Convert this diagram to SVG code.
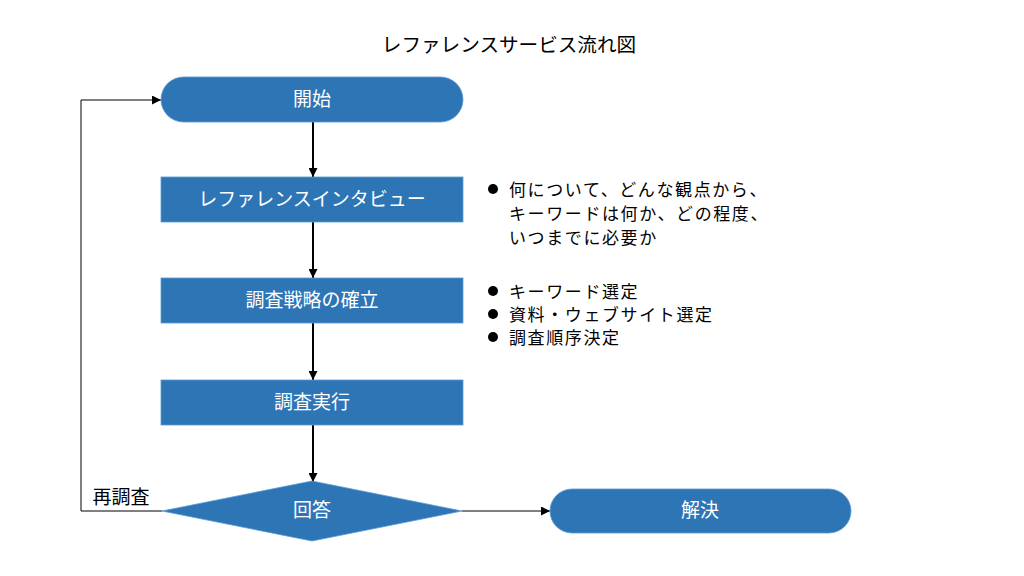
<svg xmlns="http://www.w3.org/2000/svg" width="1024" height="576" viewBox="0 0 1024 576">
<style>
text{font-family:"Noto Sans CJK JP","Noto Sans",sans-serif;font-size:19px}
.n{fill:#2E75B6;stroke:#5B9BD5;stroke-width:0.8}
.w{fill:#fff;text-anchor:middle;dominant-baseline:central}
.k{fill:#000}
.b{font-size:17px;letter-spacing:1.6px}
.thick{stroke:#000;stroke-width:2;fill:none}
.thin{stroke:#000;stroke-width:1;fill:none}
</style>
<defs>
<marker id="b" viewBox="0 0 10 10" refX="10" refY="5" markerWidth="9" markerHeight="9" orient="auto" markerUnits="userSpaceOnUse"><path d="M0,0L10,5L0,10z" fill="#000"/></marker>
</defs>
<rect width="1024" height="576" fill="#fff"/>
<text x="509" y="43" class="k" text-anchor="middle" dominant-baseline="central" style="font-size:19.6px">レファレンスサービス流れ図</text>
<g id="connectors">
<line x1="313" y1="122" x2="313" y2="177" class="thick" marker-end="url(#b)"/>
<line x1="313" y1="222" x2="313" y2="278" class="thick" marker-end="url(#b)"/>
<line x1="313" y1="323" x2="313" y2="380" class="thick" marker-end="url(#b)"/>
<line x1="313" y1="425" x2="313" y2="482" class="thick" marker-end="url(#b)"/>
<polyline points="162,511 81,511 81,100 161,100" class="thin" marker-end="url(#b)"/>
<line x1="462" y1="511" x2="550" y2="511" class="thin" marker-end="url(#b)"/>
<text x="121" y="495" class="k" text-anchor="middle" dominant-baseline="central">再調査</text>
</g>
<g id="start"><rect x="161" y="77" width="302" height="45" rx="22.5" class="n"/><text x="312" y="97.5" class="w">開始</text></g>
<g id="interview"><rect x="161" y="177" width="302" height="45" class="n"/><text x="312" y="197.5" class="w">レファレンスインタビュー</text></g>
<g id="strategy"><rect x="161" y="278" width="302" height="45" class="n"/><text x="312" y="298.5" class="w">調査戦略の確立</text></g>
<g id="execute"><rect x="161" y="380" width="302" height="45" class="n"/><text x="312" y="400.5" class="w">調査実行</text></g>
<g id="answer"><polygon points="162,511 312,481 462,511 312,541" class="n"/><text x="312" y="508.5" class="w">回答</text></g>
<g id="resolve"><rect x="550" y="489" width="301" height="44" rx="22" class="n"/><text x="700" y="508.5" class="w">解決</text></g>
<g id="notes1">
<circle cx="493" cy="189" r="5" fill="#000"/>
<text x="509" y="188" class="k b" dominant-baseline="central">何について、どんな観点から、</text>
<text x="509" y="212" class="k b" dominant-baseline="central">キーワードは何か、どの程度、</text>
<text x="509" y="236" class="k b" dominant-baseline="central">いつまでに必要か</text>
</g>
<g id="notes2">
<circle cx="493" cy="291" r="5" fill="#000"/>
<text x="509" y="290" class="k b" dominant-baseline="central">キーワード選定</text>
<circle cx="493" cy="314" r="5" fill="#000"/>
<text x="509" y="313" class="k b" dominant-baseline="central">資料・ウェブサイト選定</text>
<circle cx="493" cy="337" r="5" fill="#000"/>
<text x="509" y="336" class="k b" dominant-baseline="central">調査順序決定</text>
</g>
</svg>
